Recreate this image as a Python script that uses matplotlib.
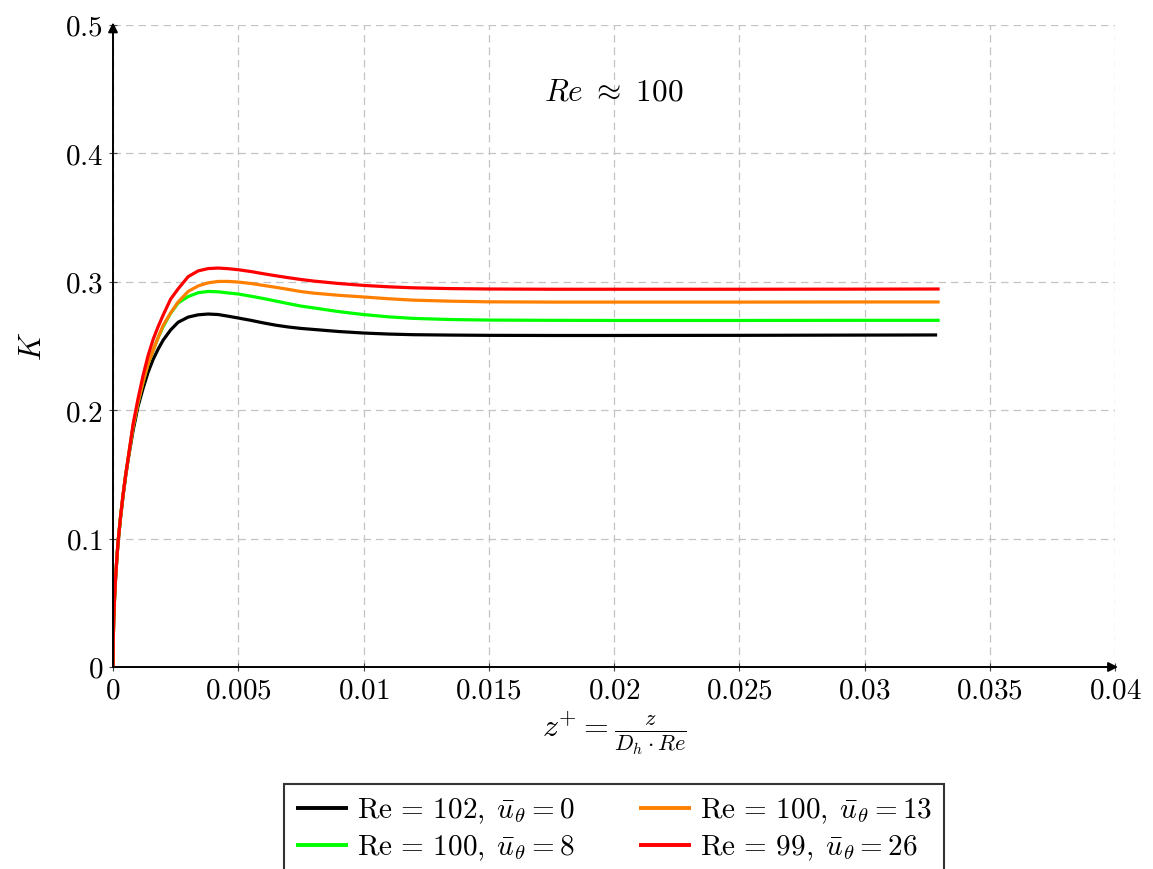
import matplotlib
matplotlib.use("Agg")
import matplotlib.pyplot as plt
from matplotlib.ticker import FixedLocator, FixedFormatter

plt.rcParams["mathtext.fontset"] = "cm"
plt.rcParams["font.family"] = ["DejaVu Serif"]

# axial coordinate z+ (shared sampling)
z = [0.0, 0.00001, 0.00003, 0.00006, 0.0001, 0.00015, 0.0002, 0.0003, 0.0004,
     0.0005, 0.0006, 0.0008, 0.001, 0.0012, 0.0014, 0.0016, 0.0018, 0.002,
     0.0023, 0.0026, 0.003, 0.0034, 0.0038, 0.0042, 0.0046, 0.005, 0.0055,
     0.006, 0.0065, 0.007, 0.0075, 0.008, 0.009, 0.01, 0.011, 0.012, 0.0135,
     0.015, 0.0175, 0.02, 0.025, 0.03, 0.033]
z_black = z[:-1] + [0.0329]

K_re102_u0 = [0.0, 0.0215, 0.0372, 0.0527, 0.068, 0.0832, 0.0965, 0.116, 0.133,
              0.148, 0.161, 0.184, 0.203, 0.217, 0.2295, 0.2395, 0.2475, 0.2545,
              0.2625, 0.2685, 0.2725, 0.2743, 0.2749, 0.2745, 0.2732, 0.2718, 0.2700,
              0.2680, 0.2662, 0.2648, 0.2637, 0.2629, 0.2613, 0.2601, 0.2593, 0.2588, 0.2585,
              0.2583, 0.2582, 0.2582, 0.2583, 0.2585, 0.2586]
K_re100_u8 = [0.0, 0.0215, 0.0372, 0.0527, 0.068, 0.0833, 0.0968, 0.1168, 0.1338,
              0.1488, 0.1618, 0.187, 0.206, 0.222, 0.236, 0.2465, 0.2565, 0.265,
              0.2755, 0.2835, 0.2885, 0.2915, 0.2925, 0.2922, 0.2913, 0.2905, 0.2888,
              0.2870, 0.2850, 0.2830, 0.2811, 0.2797, 0.2768, 0.2745, 0.2727, 0.2715, 0.2706,
              0.2702, 0.2700, 0.2699, 0.2699, 0.2700, 0.2700]
K_re100_u13 = [0.0, 0.0215, 0.0372, 0.0527, 0.068, 0.0833, 0.0968, 0.1168, 0.1338,
               0.1488, 0.1618, 0.187, 0.206, 0.222, 0.236, 0.2465, 0.2565, 0.266,
               0.2757, 0.2843, 0.2925, 0.2968, 0.2992, 0.3003, 0.3003, 0.2998, 0.2987,
               0.2972, 0.2957, 0.2941, 0.2924, 0.2912, 0.2895, 0.2882, 0.2868, 0.2857, 0.2849,
               0.2844, 0.2842, 0.2842, 0.2842, 0.2843, 0.2843]
K_re99_u26 = [0.0, 0.0215, 0.0372, 0.0527, 0.068, 0.0833, 0.097, 0.117, 0.134,
              0.149, 0.162, 0.189, 0.209, 0.227, 0.2425, 0.255, 0.265, 0.274,
              0.2865, 0.2945, 0.304, 0.3085, 0.3103, 0.3107, 0.3102, 0.3094, 0.308,
              0.3063, 0.3047, 0.3032, 0.3018, 0.3006, 0.2987, 0.2972, 0.2961, 0.2953, 0.2947,
              0.2944, 0.2942, 0.2942, 0.2942, 0.2943, 0.2944]

labels = [r"$\mathrm{Re}\,=\,102,\;\bar{u}_\theta=0$",
          r"$\mathrm{Re}\,=\,100,\;\bar{u}_\theta=8$",
          r"$\mathrm{Re}\,=\,100,\;\bar{u}_\theta=13$",
          r"$\mathrm{Re}\,=\,99,\;\bar{u}_\theta=26$"]
colors = ["black", "#00ff00", "#ff8000", "#ff0000"]

x_ticks = [0, 0.005, 0.01, 0.015, 0.02, 0.025, 0.03, 0.035, 0.04]
x_ticklabels = ["0", "0.005", "0.01", "0.015", "0.02", "0.025", "0.03", "0.035", "0.04"]
y_ticks = [0, 0.1, 0.2, 0.3, 0.4, 0.5]
y_ticklabels = ["0", "0.1", "0.2", "0.3", "0.4", "0.5"]

W, H = 1153, 869
fig = plt.figure(figsize=(W / 100, H / 100), dpi=100)
ax = fig.add_axes([113 / W, 1 - 667 / H, (1115 - 113) / W, (667 - 25) / H])

series = [(z_black, K_re102_u0), (z, K_re100_u8), (z, K_re100_u13), (z, K_re99_u26)]
handles = []
for (zz, kk), c, lab in zip(series, colors, labels):
    h, = ax.plot(zz, kk, color=c, lw=2.3, label=lab, solid_capstyle="butt",
                 solid_joinstyle="round", zorder=3)
    handles.append(h)

ax.set_xlim(0, 0.04)
ax.set_ylim(0, 0.5)

ax.xaxis.set_major_locator(FixedLocator(x_ticks))
ax.xaxis.set_major_formatter(FixedFormatter(["$%s$" % s for s in x_ticklabels]))
ax.yaxis.set_major_locator(FixedLocator(y_ticks))
ax.yaxis.set_major_formatter(FixedFormatter(["$%s$" % s for s in y_ticklabels]))
ax.tick_params(axis="both", labelsize=21, direction="inout", length=6, width=0.8,
               color="#444444", pad=4)

ax.grid(True, color="#c4c4c4", lw=0.9, linestyle=(0, (6, 4)), zorder=0)
ax.set_axisbelow(True)

for s in ("top", "right"):
    ax.spines[s].set_visible(False)
for s in ("left", "bottom"):
    ax.spines[s].set_linewidth(1.4)
    ax.spines[s].set_zorder(4)

# arrow heads on the axis lines
ax.annotate("", xy=(1.003, 0), xytext=(0.99, 0), xycoords="axes fraction",
            arrowprops=dict(arrowstyle="-|>", color="black", lw=1.4,
                            mutation_scale=14, shrinkA=0, shrinkB=0),
            annotation_clip=False)
ax.annotate("", xy=(0, 1.004), xytext=(0, 0.985), xycoords="axes fraction",
            arrowprops=dict(arrowstyle="-|>", color="black", lw=1.4,
                            mutation_scale=14, shrinkA=0, shrinkB=0),
            annotation_clip=False)

ax.set_xlabel(r"$z^{+}=\frac{z}{D_h\cdot Re}$", fontsize=23, labelpad=4)
ax.set_ylabel(r"$K$", fontsize=22, labelpad=12)

ax.text(0.02, 0.448, r"$Re\ \approx\ 100$", fontsize=22.5, ha="center", va="center")

leg = fig.legend(handles, labels,
                 loc="upper center", bbox_to_anchor=(614 / W, 1 - 784 / H),
                 ncol=2, fontsize=21, frameon=True, fancybox=False,
                 edgecolor="black", handlelength=1.8, handletextpad=0.3,
                 columnspacing=2.2, borderpad=0.42, labelspacing=0.25,
                 borderaxespad=0)
leg.get_frame().set_linewidth(1.5)
for lh in leg.get_lines():
    lh.set_linewidth(2.8)

fig.savefig("out.png", dpi=100)
